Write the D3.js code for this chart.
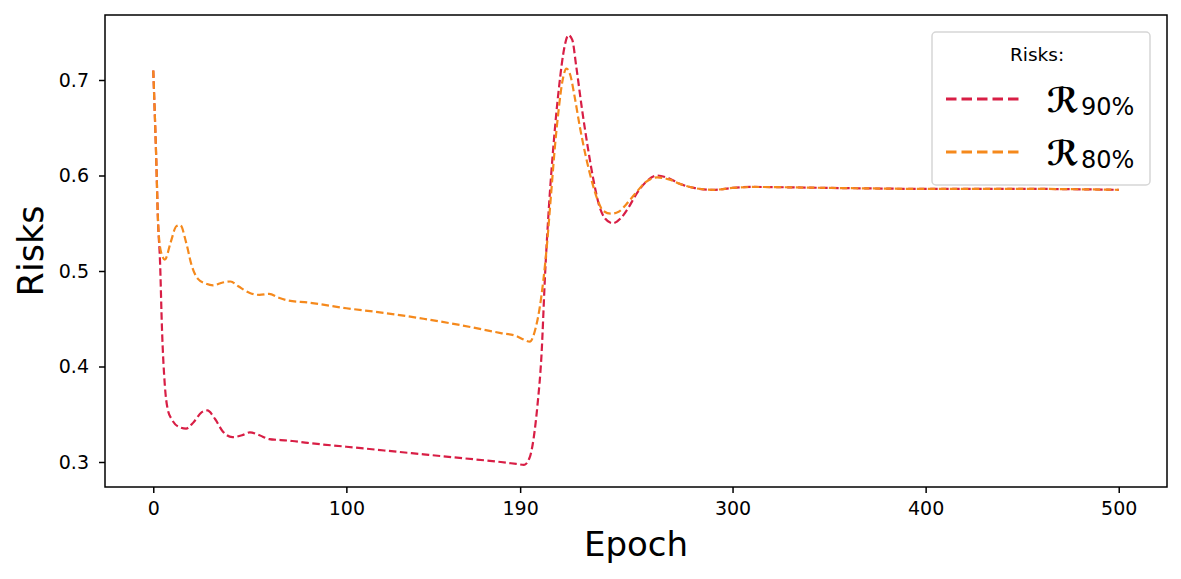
<!DOCTYPE html>
<html>
<head>
<meta charset="utf-8">
<script src="https://cdn.jsdelivr.net/npm/d3@7"></script>
<style>
  body { margin: 0; background: white; }
  text { font-family: "DejaVu Sans", sans-serif; }
</style>
</head>
<body>
<div id="container"></div>
<script>
// data
let r90Epochs = [0, 1.5, 2.5, 3.5, 4.5, 6, 7.5, 9.5, 13, 17, 21, 25, 28, 32, 36, 41, 46, 50, 55, 60, 66, 72, 80,
  100, 120, 140, 160, 180, 188, 192, 195, 197, 199, 201, 203, 205, 207, 210, 213, 215, 217, 219, 222, 225, 228,
  231, 234, 238, 242, 246, 250, 255, 261, 267, 273, 280, 290, 300, 310, 350, 400, 450, 500];
let r90Values = [0.710, 0.620, 0.550, 0.510, 0.440, 0.380, 0.355, 0.345, 0.337, 0.335, 0.342, 0.352, 0.354, 0.345,
  0.332, 0.326, 0.328, 0.331, 0.328, 0.324, 0.323, 0.322, 0.320, 0.316, 0.312, 0.308, 0.304, 0.300, 0.298, 0.297,
  0.305, 0.325, 0.360, 0.410, 0.500, 0.570, 0.625, 0.690, 0.735, 0.747, 0.742, 0.715, 0.670, 0.630, 0.595, 0.568,
  0.555, 0.550, 0.555, 0.566, 0.580, 0.593, 0.600, 0.597, 0.591, 0.587, 0.585, 0.587, 0.588, 0.587, 0.586, 0.586, 0.585];

let r80Epochs = [0, 1.5, 2.5, 4, 6, 9, 12, 14, 17, 20, 23, 27, 31, 36, 40, 44, 50, 55, 60, 65, 70, 80, 100, 120,
  140, 160, 180, 188, 192, 195, 198, 200, 202, 204, 206, 208, 210, 212, 214, 216, 218, 221, 224, 227, 230, 233,
  237, 241, 245, 250, 255, 261, 267, 273, 280, 290, 300, 310, 350, 400, 450, 500];
let r80Values = [0.710, 0.620, 0.550, 0.520, 0.512, 0.530, 0.547, 0.548, 0.530, 0.505, 0.492, 0.487, 0.485, 0.488,
  0.489, 0.484, 0.477, 0.475, 0.476, 0.472, 0.469, 0.467, 0.461, 0.456, 0.450, 0.443, 0.435, 0.432, 0.428, 0.426,
  0.440, 0.460, 0.490, 0.530, 0.580, 0.630, 0.670, 0.700, 0.712, 0.705, 0.685, 0.650, 0.620, 0.595, 0.575, 0.563,
  0.560, 0.562, 0.570, 0.582, 0.593, 0.598, 0.596, 0.591, 0.587, 0.585, 0.587, 0.588, 0.587, 0.586, 0.586, 0.585];

let xTicks = [0, 100, 190, 300, 400, 500];
let yTicks = [0.3, 0.4, 0.5, 0.6, 0.7];

let series = [
  {name: "90%", epochs: r90Epochs, values: r90Values, color: "#d81e45"},
  {name: "80%", epochs: r80Epochs, values: r80Values, color: "#f5891c"}
];

let svgWidth = 1181, svgHeight = 579;
let plotLeft = 105, plotRight = 1167, plotTop = 15, plotBottom = 487;

let viz = d3.select("#container")
  .append("svg")
    .attr("width", svgWidth)
    .attr("height", svgHeight)
    .style("background-color", "white");

let x = d3.scaleLinear().domain([-25, 525]).range([plotLeft, plotRight]);
let y = d3.scaleLinear().domain([0.3, 0.7]).range([462, 80]);

// axes
let xAxis = viz.append("g")
  .attr("transform", `translate(0,${plotBottom})`)
  .call(d3.axisBottom(x).tickValues(xTicks).tickFormat(d3.format("d")).tickSizeOuter(0).tickSize(6).tickPadding(9));
let yAxis = viz.append("g")
  .attr("transform", `translate(${plotLeft},0)`)
  .call(d3.axisLeft(y).tickValues(yTicks).tickFormat(d3.format(".1f")).tickSizeOuter(0).tickSize(6).tickPadding(10));
[xAxis, yAxis].forEach(a => {
  a.select(".domain").remove();
  a.selectAll("text").attr("font-size", 19).attr("fill", "black").style("font-family", "DejaVu Sans");
  a.selectAll("line").attr("stroke", "black").attr("stroke-width", 1.5);
});

// lines
let line = d3.line().curve(d3.curveMonotoneX);
series.forEach(s => {
  let pts = s.epochs.map((e, i) => [x(e), y(s.values[i])]);
  viz.append("path")
    .attr("d", line(pts))
    .attr("fill", "none")
    .attr("stroke", s.color)
    .attr("stroke-width", 2.2)
    .attr("stroke-dasharray", "7.5,3.5");
});

// frame
viz.append("rect")
  .attr("x", plotLeft).attr("y", plotTop)
  .attr("width", plotRight - plotLeft).attr("height", plotBottom - plotTop)
  .attr("fill", "none").attr("stroke", "black").attr("stroke-width", 1.5);

// axis labels
viz.append("text")
  .attr("x", (plotLeft + plotRight) / 2).attr("y", 556)
  .attr("text-anchor", "middle").attr("font-size", 34)
  .text("Epoch");
viz.append("text")
  .attr("transform", `translate(43,${(plotTop + plotBottom) / 2}) rotate(-90)`)
  .attr("text-anchor", "middle").attr("font-size", 35)
  .text("Risks");

// legend
let legend = viz.append("g");
legend.append("rect")
  .attr("x", 932).attr("y", 32).attr("width", 218).attr("height", 153)
  .attr("rx", 4).attr("fill", "white").attr("fill-opacity", 0.85)
  .attr("stroke", "#d6d6d6").attr("stroke-width", 1.5);
legend.append("text")
  .attr("x", 1037).attr("y", 61).attr("text-anchor", "middle").attr("font-size", 18.5)
  .text("Risks:");
series.forEach((s, i) => {
  let ly = 99 + i * 53;
  legend.append("line")
    .attr("x1", 946).attr("x2", 1019).attr("y1", ly).attr("y2", ly)
    .attr("stroke", s.color).attr("stroke-width", 3).attr("stroke-dasharray", "10.5,5");
  let t = legend.append("text").attr("x", 1047).attr("y", ly + 13);
  t.append("tspan").attr("font-size", 34).attr("font-style", "italic").attr("font-weight", "bold")
    .style("font-family", "DejaVu Sans").text("ℛ");
  t.append("tspan").attr("font-size", 24).attr("dx", 2).attr("dy", 3).text(s.name);
});
</script>
</body>
</html>
